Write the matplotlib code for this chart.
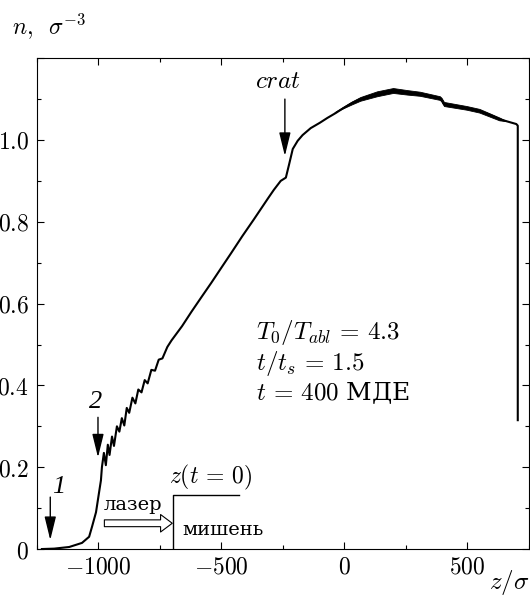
## Libraries
import numpy as np
import matplotlib
matplotlib.use('Agg')
import matplotlib.pyplot as plt
from matplotlib.ticker import MultipleLocator, FuncFormatter

## Data
z = [-1230, -1180, -1119, -1067, -1038, -1026, -1010, -998, -990, -986,
     -978, -970, -962, -955, -945, -937, -925, -915, -905, -895, -885, -875,
     -862, -850, -838, -825, -812, -800, -785, -770, -755, -740, -720, -703,
     -660, -622, -580, -541, -500, -461, -415, -368, -330, -311, -287, -259,
     -238, -225, -210, -190, -170, -137, -100, -69, -35, -4, 30, 65, 100, 133,
     165, 198, 230, 255, 307, 350, 388, 395, 405, 450, 497, 549, 590, 630,
     670, 699, 705, 705]
n = [0.0, 0.001, 0.005, 0.015, 0.03, 0.055, 0.09, 0.137, 0.168, 0.2,
     0.235, 0.205, 0.255, 0.23, 0.275, 0.252, 0.3, 0.287, 0.32, 0.302, 0.345, 0.333,
     0.37, 0.356, 0.39, 0.383, 0.413, 0.405, 0.438, 0.436, 0.463, 0.466, 0.494, 0.51,
     0.545, 0.58, 0.617, 0.651, 0.688, 0.723, 0.765, 0.806, 0.84, 0.857, 0.878, 0.9,
     0.908, 0.94, 0.978, 0.998, 1.012, 1.029, 1.042, 1.054, 1.066, 1.078, 1.09, 1.1, 1.107, 1.112,
     1.117, 1.12, 1.118, 1.115, 1.112, 1.107, 1.102, 1.098, 1.087, 1.083, 1.078, 1.071, 1.062, 1.051,
     1.044, 1.039, 1.035, 0.315]

# noisy (thick) part of the curve near the maximum
band_z = [-40, 30, 65, 133, 198, 255, 307, 388, 395, 405, 497, 549, 630, 660]
band_lo = [1.068, 1.087, 1.096, 1.107, 1.115, 1.111, 1.108, 1.098, 1.094, 1.083, 1.074, 1.067, 1.048, 1.046]
band_hi = [1.068, 1.094, 1.105, 1.119, 1.127, 1.122, 1.118, 1.107, 1.103, 1.093, 1.083, 1.076, 1.055, 1.046]

# target surface at t = 0
target_z = [-695, -695, -430]
target_n = [0, 0.132, 0.132]

## Figure
plt.rcParams['font.family'] = ['DejaVu Serif']
plt.rcParams['mathtext.fontset'] = 'cm'
plt.rcParams['font.size'] = 17

fig = plt.figure(figsize=(5.3, 6.06), dpi=100)
ax = fig.add_axes([0.0698, 0.094, 0.928, 0.810])

ax.plot(z, n, color='black', lw=1.5)
ax.fill_between(band_z, band_lo, band_hi, color='black', lw=0.6)
ax.plot(target_z, target_n, color='black', lw=1.0)

ax.set_xlim(-1250, 750)
ax.set_ylim(0, 1.2)
ax.xaxis.set_major_locator(MultipleLocator(500))
ax.xaxis.set_minor_locator(MultipleLocator(250))
ax.yaxis.set_major_locator(MultipleLocator(0.2))
ax.yaxis.set_minor_locator(MultipleLocator(0.1))

def ylab(v, p):
    if abs(v) < 1e-9:
        return r'$0$'
    if v > 1.1:
        return ''
    return r'$%.1f$' % v

ax.xaxis.set_major_formatter(FuncFormatter(lambda v, p: r'$%d$' % v))
ax.yaxis.set_major_formatter(FuncFormatter(ylab))
ax.tick_params(which='both', direction='in', top=True, right=True, width=0.8)
ax.tick_params(which='major', length=5, labelsize=17)
ax.tick_params(which='minor', length=3)
ax.tick_params(axis='x', pad=5)
ax.tick_params(axis='y', pad=6)
for s in ax.spines.values():
    s.set_linewidth(0.8)

# axis labels
ax.text(-0.051, 1.065, r'$n,\;\;\sigma^{-3}$', transform=ax.transAxes, ha='left', va='center', fontsize=17)
ax.text(1.0, -0.069, r'$z/\sigma$', transform=ax.transAxes, ha='right', va='center', fontsize=18)

# arrows
arr = dict(arrowstyle='-|>,head_length=0.9,head_width=0.22', color='black', lw=1.0,
           shrinkA=0, shrinkB=0, mutation_scale=16)
ax.annotate('', xy=(-242, 0.961), xytext=(-242, 1.10), arrowprops=arr)
ax.annotate('', xy=(-1002, 0.224), xytext=(-1002, 0.322), arrowprops=arr)
ax.annotate('', xy=(-1196, 0.022), xytext=(-1196, 0.127), arrowprops=arr)
ax.text(-270, 1.144, r'$crat$', ha='center', va='center', fontsize=18)
ax.text(-1010, 0.359, '2', ha='center', va='center', fontsize=19,
        family='Liberation Serif', style='italic')
ax.text(-1160, 0.151, '1', ha='center', va='center', fontsize=19,
        family='Liberation Serif', style='italic')

# laser / target
ax.annotate('', xy=(-700, 0.063), xytext=(-976, 0.063),
            arrowprops=dict(arrowstyle='simple,head_length=0.6,head_width=0.9,tail_width=0.35',
                            fc='white', ec='black', lw=0.8, shrinkA=0, shrinkB=0, mutation_scale=14))
ax.text(-980, 0.107, 'лазер', ha='left', va='center', fontsize=14)
ax.text(-660, 0.046, 'мишень', ha='left', va='center', fontsize=14)
ax.text(-545, 0.176, r'$z(t\,=\,0)$', ha='center', va='center', fontsize=17)

# parameters
ax.text(-360, 0.529, r'$T_0/T_{abl}\,=\,4.3$', ha='left', va='center', fontsize=18)
ax.text(-360, 0.454, r'$t/t_s\,=\,1.5$', ha='left', va='center', fontsize=18)
ax.text(-360, 0.38, r'$t\,=\,400$ МДЕ', ha='left', va='center', fontsize=18)

plt.savefig('out.png', dpi=100)
